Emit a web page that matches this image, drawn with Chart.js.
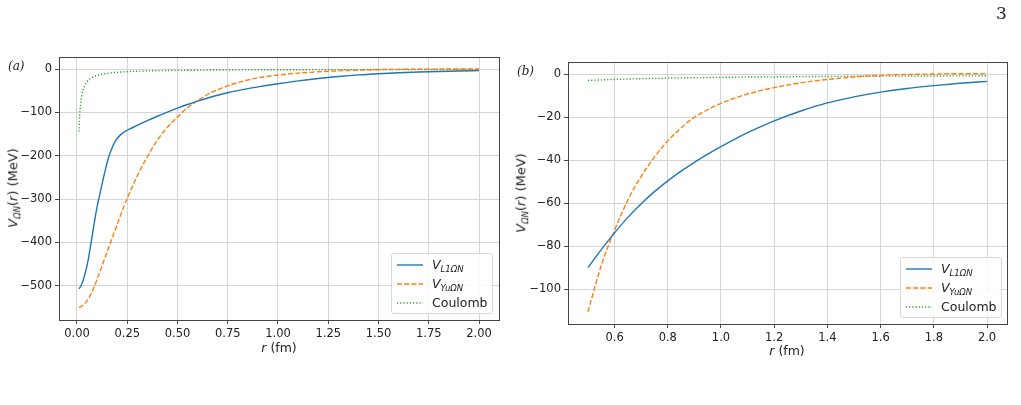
<!DOCTYPE html>
<html>
<head>
<meta charset="utf-8">
<script src="https://cdn.jsdelivr.net/npm/chart.js@4"></script>
<style>
body { margin: 0; background: #fff; width: 1021px; height: 405px; position: relative; overflow: hidden; font-family: "DejaVu Sans", sans-serif; color: #222; }
canvas { position: absolute; top: 0; }
.lbl { position: absolute; white-space: nowrap; font-size: 12.5px; line-height: 1; }
.ytitle { transform: translate(-50%, -50%) rotate(-90deg); font-size: 13px; }
.xtitle { transform: translate(-50%, -50%); }
sub { font-size: 8.5px; vertical-align: -3px; font-style: italic; }
.panel { position: absolute; font-family: "DejaVu Serif", serif; font-style: italic; font-size: 12px; }
.page { position: absolute; left: 996px; top: 3px; font-family: "DejaVu Serif", serif; font-size: 17px; }
.leg { position: absolute; background: rgba(255,255,255,0.8); border: 1px solid #d8d8d8; border-radius: 3px; box-sizing: border-box; }
.leg .row { position: absolute; left: 0; height: 18px; white-space: nowrap; }
.leg svg { position: absolute; left: 5px; top: 4px; }
.leg span { position: absolute; left: 40px; top: 0; font-size: 12.5px; line-height: 18px; }
</style>
</head>
<body>
<canvas id="chartA" width="510" height="405" style="left:0"></canvas>
<canvas id="chartB" width="511" height="405" style="left:510px"></canvas>

<div class="page">3</div>
<div class="panel" style="left:8px;top:59px">(a)</div>
<div class="panel" style="left:517px;top:64px">(b)</div>

<div class="lbl ytitle" style="left:14px;top:188px"><i>V</i><sub>ΩN</sub>(<i>r</i>) (MeV)</div>
<div class="lbl ytitle" style="left:522px;top:193px"><i>V</i><sub>ΩN</sub>(<i>r</i>) (MeV)</div>
<div class="lbl xtitle" style="left:279px;top:348px"><i>r</i> (fm)</div>
<div class="lbl xtitle" style="left:787px;top:351px"><i>r</i> (fm)</div>

<div class="leg" id="legA" style="left:391px;top:253px;width:102px;height:61px"></div>
<div class="leg" id="legB" style="left:900px;top:257px;width:102px;height:61px"></div>

<script>
// Data (r in fm, V in MeV)

const rL1 = [0.01, 0.02, 0.03, 0.04, 0.05, 0.06, 0.07, 0.08, 0.09, 0.10, 0.11, 0.12, 0.13, 0.14, 0.15, 0.16, 0.17, 0.18, 0.19, 0.20, 0.22, 0.25, 0.30, 0.35, 0.40, 0.45, 0.50, 0.55, 0.60, 0.65, 0.70, 0.75, 0.80, 0.85, 0.90, 0.95, 1.00, 1.10, 1.20, 1.30, 1.40, 1.50, 1.60, 1.70, 1.80, 1.90, 2.00];
const vL1 = [-507, -500, -488, -472, -453, -429, -401, -372, -344, -318, -296, -275, -254, -234, -216, -200, -187, -176, -167, -160, -150, -141, -129.8, -119, -108.7, -99.1, -90, -81.6, -73.8, -66.6, -60.2, -54.6, -49.6, -45.1, -41.0, -37.2, -33.7, -27.2, -21.7, -17.1, -13.3, -10.5, -8.3, -6.6, -5.3, -4.2, -3.3];

const rYu = [0.01, 0.02, 0.04, 0.06, 0.08, 0.10, 0.12, 0.14, 0.16, 0.18, 0.20, 0.22, 0.25, 0.30, 0.35, 0.40, 0.45, 0.50, 0.55, 0.60, 0.65, 0.70, 0.75, 0.80, 0.85, 0.90, 1.00, 1.10, 1.20, 1.30, 1.40, 1.50, 1.60, 1.70, 1.80, 1.90, 2.00];
const vYu = [-550, -548, -540, -527, -508, -485, -460, -434, -408, -383, -358, -333, -298, -246, -202, -164, -134, -110.5, -89, -72.6, -58.5, -47.5, -38.5, -31, -25, -20, -13.6, -9.2, -6.2, -4, -2.4, -1.3, -0.5, -0.1, 0.1, 0.25, 0.3];

const rCoul = [0.01, 0.012, 0.015, 0.02, 0.025, 0.03, 0.04, 0.05, 0.07, 0.10, 0.15, 0.20, 0.30, 0.40, 0.50, 0.60, 0.80, 1.00, 1.20, 1.40, 1.60, 1.80, 2.00];
const vCoul = [-144, -120, -96, -72, -57.6, -48, -36, -28.8, -20.6, -14.4, -9.6, -7.2, -4.8, -3.6, -2.88, -2.4, -1.8, -1.44, -1.2, -1.03, -0.9, -0.8, -0.72];

const xTicksA = [0, 0.25, 0.5, 0.75, 1.0, 1.25, 1.5, 1.75, 2.0];
const yTicksA = [0, -100, -200, -300, -400, -500];
const xTicksB = [0.6, 0.8, 1.0, 1.2, 1.4, 1.6, 1.8, 2.0];
const yTicksB = [0, -20, -40, -60, -80, -100];

const rMinB = 0.5;

// Setup

const series = [
  { name: "V", sub: "L1ΩN", r: rL1, v: vL1, color: "#1f77b4", dash: [] },
  { name: "V", sub: "YuΩN", r: rYu, v: vYu, color: "#ff7f0e", dash: [5, 2.2] },
  { name: "Coulomb", sub: "", r: rCoul, v: vCoul, color: "#2ca02c", dash: [1.2, 2] },
];

function points(s, rMin) {
  let pts = [];
  s.r.forEach(function (r, i) {
    if (r >= rMin) pts.push({ x: r, y: s.v[i] });
  });
  return pts;
}

function datasets(rMin) {
  return series.map(function (s) {
    return {
      label: s.name + s.sub,
      data: points(s, rMin),
      borderColor: s.color,
      borderWidth: 1.4,
      borderDash: s.dash,
      pointRadius: 0,
      cubicInterpolationMode: "monotone",
      fill: false,
    };
  });
}

const tickFont = { family: "DejaVu Sans", size: 11.5 };
const minus = (t) => String(t).replace("-", "\u2212");

function axis(min, max, ticks, digits, fit) {
  return {
    type: "linear",
    min: min,
    max: max,
    afterBuildTicks: (s) => { s.ticks = ticks.map((v) => ({ value: v })); },
    afterFit: fit,
    ticks: {
      autoSkip: false,
      maxRotation: 0,
      font: tickFont,
      color: "#222",
      padding: 3,
      callback: (v) => minus(digits == null ? v : v.toFixed(digits)),
    },
    grid: { color: "#d0d0d0", lineWidth: 0.9, tickColor: "#333", tickLength: 4 },
    border: { display: false },
  };
}

const frame = {
  id: "frame",
  afterDraw(chart) {
    const a = chart.chartArea, ctx = chart.ctx;
    ctx.save();
    ctx.strokeStyle = "#444";
    ctx.lineWidth = 1;
    ctx.strokeRect(Math.round(a.left) + 0.5, Math.round(a.top) + 0.5, Math.round(a.right - a.left), Math.round(a.bottom - a.top));
    ctx.restore();
  },
};

function config(rMin, xr, yr, xt, yt, xd, pad, yw, xh) {
  return {
    type: "line",
    data: { datasets: datasets(rMin) },
    options: {
      responsive: false,
      animation: false,
      layout: { padding: pad },
      plugins: { legend: { display: false }, tooltip: { enabled: false } },
      scales: {
        x: axis(xr[0], xr[1], xt, xd, (s) => { s.height = xh; }),
        y: axis(yr[0], yr[1], yt, null, (s) => { s.width = yw; }),
      },
    },
    plugins: [frame],
  };
}

new Chart(document.getElementById("chartA"),
  config(0, [-0.0895, 2.0995], [-578.8, 28], xTicksA, yTicksA, 2,
    { left: 0, top: 57, right: 11, bottom: 40 }, 59, 45));

new Chart(document.getElementById("chartB"),
  config(rMinB, [0.425, 2.075], [-116.2, 5.7], xTicksB, yTicksB, 1,
    { left: 0, top: 62, right: 14, bottom: 36 }, 58, 45));

// Legends

function legend(id) {
  const box = document.getElementById(id);
  series.forEach(function (s, i) {
    const row = document.createElement("div");
    row.className = "row";
    row.style.top = (2 + i * 19) + "px";
    row.style.width = "100%";
    const dash = s.dash.length ? s.dash.join(",") : "none";
    row.innerHTML =
      '<svg width="28" height="10"><line x1="0" y1="5" x2="26" y2="5" stroke="' + s.color +
      '" stroke-width="1.4" stroke-dasharray="' + dash + '"/></svg>' +
      (s.sub ? '<span><i>' + s.name + '</i><sub>' + s.sub + '</sub></span>' : '<span>' + s.name + '</span>');
    box.appendChild(row);
  });
}

legend("legA");
legend("legB");
</script>
</body>
</html>
